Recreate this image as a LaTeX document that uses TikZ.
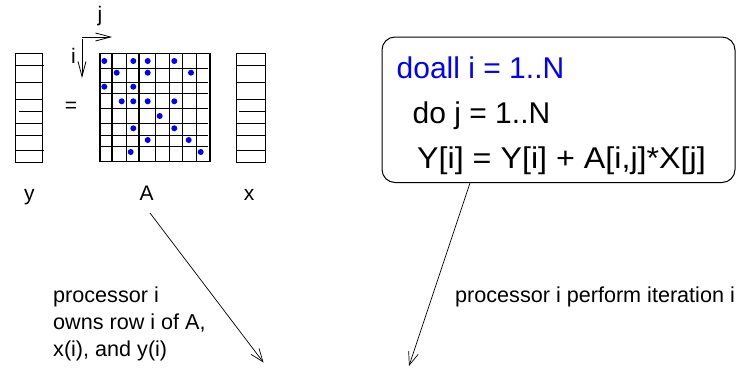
\documentclass[tikz,border=0pt]{standalone}
\usepackage{fontspec}
\setmainfont{Liberation Sans}
\usetikzlibrary{arrows.meta}
\definecolor{figblue}{RGB}{0,0,255}
\begin{document}
\begin{tikzpicture}[x=1pt,y=-1pt,
  lbl/.style={inner sep=0pt, font=\fontsize{21}{25}\selectfont},
  small/.style={inner sep=0pt, anchor=base west, font=\fontsize{21.6}{25}\selectfont},
  code/.style={inner sep=0pt, anchor=base west, font=\fontsize{30}{36}\selectfont},
  gridline/.style={line width=1.2pt},
  vecline/.style={line width=1pt},
  mdot/.style={fill=figblue, draw=none},
  barb/.style={-{Straight Barb[length=13pt,width=10pt]}, line width=0.7pt},
  axis/.style={-{Straight Barb[length=15pt,width=8pt]}, line width=0.8pt},
  codebox/.style={draw, line width=1pt, rounded corners=13pt, minimum width=353pt, minimum height=145.5pt, inner sep=0pt}
]
\useasboundingbox (0,0) rectangle (736,370);

% vector y
\draw[vecline] (15.7,53.3) rectangle (42.7,162.3);
\foreach \yy in {82.3,99,123.3,135.3} \draw[vecline] (15.7,\yy) -- (42.7,\yy);
\draw[vecline] (15.7,65.7) -- (44.3,65.7);
\draw[vecline] (19,111) -- (42.7,111);
\draw[vecline] (15.7,150) -- (44.3,150);

% vector x
\draw[vecline] (236.7,53.3) rectangle (265.7,162.3);
\foreach \yy in {65.7,82.3,99,123.3,135.3,150} \draw[vecline] (236.7,\yy) -- (265.7,\yy);
\draw[vecline] (239.3,111) -- (265.7,111);

% matrix A
\draw[gridline] (100,53.3) rectangle (210,161.5);
\foreach \xx in {112,126.5,139,155.2,169.5,182.3,196.3} \draw[gridline] (\xx,53.3) -- (\xx,161.5);
\foreach \yy in {68.5,82.3,93.3,108.5,123.3,135.2,146.8} \draw[gridline] (100,\yy) -- (208,\yy);

% nonzeros
\foreach \p in {(104.3,61),(133.3,61),(147.7,61),(174.3,61),
  (116.7,72.7),(147.7,72.7),(191,72.7),
  (104.3,86.7),(133.3,86.7),
  (121.7,101.3),(133.3,101.3),(147.7,101.3),(174.3,101.3),
  (159.7,116),
  (133.3,128.3),(174.3,128.3),
  (147.7,140),(188.7,140),
  (130.7,152),(200.7,152)}
  \fill[mdot] \p circle (3pt);

% index arrows
\coordinate (corner) at (82,37);
\coordinate (jend) at (112,37);
\coordinate (itop) at (82,39);
\coordinate (iend) at (82,78);
\draw[axis] (corner) -- (jend);
\draw[axis] (itop) -- (iend);
\node[lbl, anchor=base] (ilbl) at (73.5,63) {i};
\node[lbl, anchor=base] (jlbl) at (100,21) {j};

% labels
\node[lbl] (eq) at (71,107) {=};
\node[lbl, anchor=base] (ylbl) at (29.3,200) {y};
\node[lbl, anchor=base] (Albl) at (146.7,200) {A};
\node[lbl, anchor=base] (xlbl) at (249,200) {x};

% code box
\node[codebox] (box) at (558.5,109.75) {};
\node[code, text=figblue] (c1) at (396.5,78) {doall i = 1..N};
\node[code] (c2) at (412.5,123) {do j = 1..N};
\node[code] (c3) at (417,168) {\scalebox{1.075}[1]{Y[i] = Y[i] + A[i,j]*X[j]}};

% annotations
\node[small] (t1) at (53,302) {processor i};
\node[small] (t2) at (53,329) {owns row i of A,};
\node[small] (t3) at (53,356) {x(i), and y(i)};
\node[small] (t4) at (455,302) {processor i perform iteration i};

% arrows
\coordinate (s1) at (150,213);
\coordinate (e1) at (263.5,362.5);
\coordinate (s2) at (470,183);
\coordinate (e2) at (409,366);
\draw[barb] (s1) -- (e1);
\draw[barb] (s2) -- (e2);
\end{tikzpicture}
\end{document}
